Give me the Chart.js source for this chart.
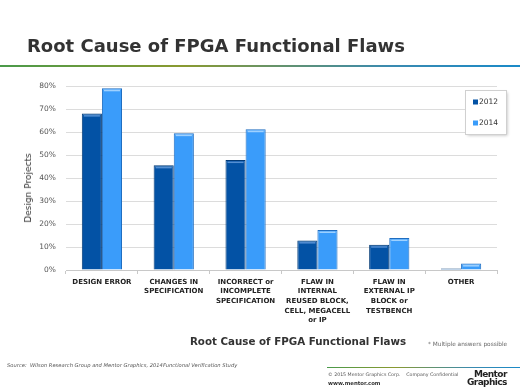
<!DOCTYPE html>
<html>
<head>
<meta charset="utf-8">
<script src="https://cdn.jsdelivr.net/npm/chart.js@4"></script>
<style>
  body { margin: 0; background: #fff; font-family: "DejaVu Sans", Verdana, sans-serif; }
  #page { position: relative; width: 520px; height: 390px; overflow: hidden; }
  #chart { position: absolute; left: 0; top: 0; }
  .txt { position: absolute; white-space: nowrap; }
  #title { left: 27px; top: 35px; font-size: 18px; font-weight: bold; color: #333; }
  #topLine { position: absolute; left: 0; top: 65px; width: 520px; height: 2px;
    background: linear-gradient(to right, #4a9a4a, #8a9a30 35%, #3a8ab0 75%, #1a8ac8); }
  #yTitle { left: 28px; top: 188px; font-size: 9px; color: #333;
    transform: translate(-50%, -50%) rotate(-90deg); }
  #xTitle { left: 298px; top: 335px; font-size: 10.3px; font-weight: bold; color: #333; transform: translateX(-50%); }
  #note { left: 428px; top: 341px; font-size: 5.8px; color: #666; }
  #source { left: 7px; top: 362px; font-size: 5.2px; font-style: italic; color: #555; }
  #botLine { position: absolute; left: 327px; top: 367px; width: 193px; height: 1px;
    background: linear-gradient(to right, #4a9a4a, #8a9a30 35%, #3a8ab0 75%, #1a8ac8); }
  #copy { left: 328px; top: 372px; font-size: 4.7px; color: #555; }
  #web { left: 328px; top: 380px; font-size: 5.4px; font-weight: bold; color: #333; }
  #logo { left: 467px; top: 371px; font-size: 9px; font-weight: 900; color: #222; line-height: 7.5px; text-align: right; letter-spacing: -0.6px; }
</style>
</head>
<body>
<div id="page">
  <canvas id="chart" width="520" height="390"></canvas>
  <div class="txt" id="title">Root Cause of FPGA Functional Flaws</div>
  <div id="topLine"></div>
  <div class="txt" id="yTitle">Design Projects</div>
  <div class="txt" id="xTitle">Root Cause of FPGA Functional Flaws</div>
  <div class="txt" id="note">* Multiple answers possible</div>
  <div class="txt" id="source">Source:&nbsp; Wilson Research Group and Mentor Graphics, 2014Functional Verification Study</div>
  <div id="botLine"></div>
  <div class="txt" id="copy">© 2015 Mentor Graphics Corp.&nbsp;&nbsp;&nbsp; Company Confidential</div>
  <div class="txt" id="web">www.mentor.com</div>
  <div class="txt" id="logo">Mentor<br>Graphics</div>
</div>
<script>
// data
const categories = [
    ['DESIGN ERROR'],
    ['CHANGES IN', 'SPECIFICATION'],
    ['INCORRECT or', 'INCOMPLETE', 'SPECIFICATION'],
    ['FLAW IN', 'INTERNAL', 'REUSED BLOCK,', 'CELL, MEGACELL', 'or IP'],
    ['FLAW IN', 'EXTERNAL IP', 'BLOCK or', 'TESTBENCH'],
    ['OTHER']
];
const years = ['2012', '2014'];
const values2012 = [68, 45.5, 47.8, 12.8, 11, 0.6];
const values2014 = [79, 59.5, 61.2, 17.4, 13.9, 2.8];
const yTicks = [0, 10, 20, 30, 40, 50, 60, 70, 80];

// legend box drawn inside plot area, like the original
const boxLegend = {
    id: 'boxLegend',
    afterDraw(chart) {
        const ctx = chart.ctx;
        const x = 465, y = 90, w = 41, h = 44;
        ctx.save();
        ctx.shadowColor = 'rgba(0,0,0,0.25)';
        ctx.shadowBlur = 3;
        ctx.shadowOffsetX = 1.5;
        ctx.shadowOffsetY = 1.5;
        ctx.fillStyle = '#fff';
        ctx.fillRect(x, y, w, h);
        ctx.restore();
        ctx.save();
        ctx.strokeStyle = '#d0d0d0';
        ctx.lineWidth = 1;
        ctx.strokeRect(x + 0.5, y + 0.5, w, h);
        ctx.font = '7.5px "DejaVu Sans"';
        ctx.textBaseline = 'middle';
        chart.data.datasets.forEach((ds, i) => {
            const cy = y + 12 + i * 21;
            ctx.fillStyle = ds.backgroundColor;
            ctx.fillRect(x + 8, cy - 2.5, 5, 5);
            ctx.fillStyle = '#333';
            ctx.fillText(ds.label, x + 14, cy);
        });
        ctx.restore();
    }
};

// light strip along the top of each bar (the bevel in the original)
const barBevel = {
    id: 'barBevel',
    afterDatasetsDraw(chart) {
        const ctx = chart.ctx;
        ctx.save();
        chart.data.datasets.forEach((ds, i) => {
            const light = i === 0 ? 'rgba(120,170,230,0.7)' : 'rgba(170,215,255,0.9)';
            chart.getDatasetMeta(i).data.forEach(bar => {
                const h = bar.base - bar.y;
                if (h < 4) return;
                ctx.fillStyle = light;
                ctx.fillRect(bar.x - bar.width / 2 + 2, bar.y + 1.5, bar.width - 4, 1.5);
            });
        });
        ctx.restore();
    }
};

new Chart(document.getElementById('chart'), {
    type: 'bar',
    data: {
        labels: categories,
        datasets: [{
            label: years[0],
            data: values2012,
            backgroundColor: '#0352a5',
            borderColor: '#023a76',
            borderWidth: 1
        }, {
            label: years[1],
            data: values2014,
            backgroundColor: '#3a9cfa',
            borderColor: '#1f6dc0',
            borderWidth: 1
        }]
    },
    options: {
        responsive: false,
        animation: false,
        events: [],
        layout: { padding: { left: 20, right: 23, top: 86, bottom: 60 } },
        plugins: { legend: { display: false }, tooltip: { enabled: false } },
        datasets: { bar: { categoryPercentage: 0.56, barPercentage: 1 } },
        scales: {
            x: {
                grid: { display: true, drawOnChartArea: false, tickLength: 4, color: '#c8c8c8', offset: true },
                border: { color: '#c8c8c8' },
                ticks: {
                    maxRotation: 0, autoSkip: false, padding: 3,
                    color: '#222',
                    font: { family: 'DejaVu Sans', size: 7, weight: 'bold', lineHeight: 1.38 }
                },
                afterFit(scale) { scale.height = 60; }
            },
            y: {
                min: 0, max: 80,
                afterBuildTicks(scale) { scale.ticks = yTicks.map(v => ({ value: v })); },
                grid: { color: '#dcdcdc', drawTicks: false },
                border: { display: false },
                ticks: {
                    padding: 10,
                    color: '#555',
                    font: { family: 'DejaVu Sans', size: 7.5 },
                    callback: v => v + '%'
                },
                afterFit(scale) { scale.width = 46; }
            }
        }
    },
    plugins: [boxLegend, barBevel]
});
</script>
</body>
</html>
